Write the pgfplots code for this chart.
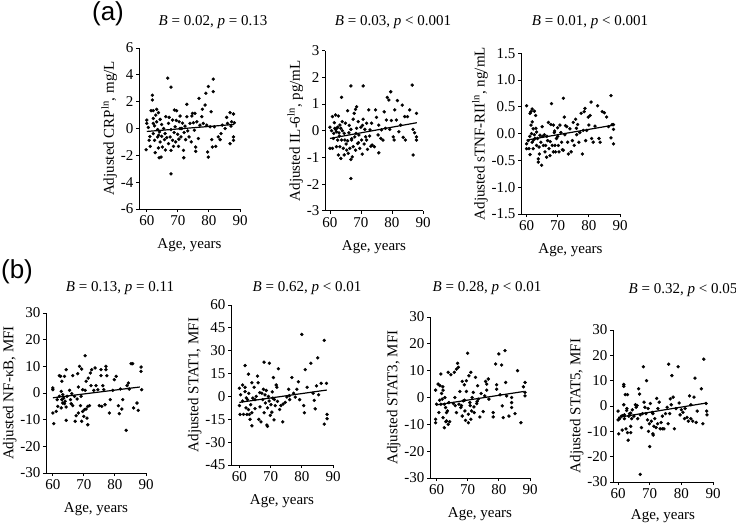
\documentclass[border=0pt]{standalone}
\usepackage{pgfplots}
\pgfplotsset{compat=1.18}
\usepackage{fontspec}
\setmainfont{Liberation Serif}
\newfontfamily\arialfont{Liberation Sans}
\newcommand\tf{\fontsize{15}{18}\selectfont}
\pgfplotsset{prism/.style={
  scale only axis, anchor=south west, clip=false,
  axis lines=left, axis line style={-, line width=0.9pt},
  tick align=outside, major tick length=3pt, tick style={line width=0.9pt, black},
  xmax=90, xtick={60,70,80,90},
  xlabel={Age, years},
  every axis x label/.style={at={(axis description cs:0.5,0)}, anchor=center, yshift=-36pt},
  /pgf/number format/assume math mode=true,
  tick label style={font=\tf}, label style={font=\tf},
  yticklabel style={xshift=1pt},
  ylabel style={yshift=-3pt},
}}
\tikzset{pt/.style={only marks, mark=*, mark size=1.5pt, black}, reg/.style={black, line width=1.2pt, no marks}}
\begin{document}
\begin{tikzpicture}
\path[use as bounding box] (0,0) rectangle (736pt,-525pt);
% ---------------- (a1) CRP
\begin{axis}[prism, at={(139pt,-209pt)}, width=101pt, height=161pt, xmin=57.5,
  ymin=-6, ymax=6, ytick={-6,-4,...,6}, ylabel={Adjusted CRP\textsuperscript{ln}, mg/L}]
\addplot[pt] coordinates {(59.8,-1.58) (60,0.63) (60,0.38) (60.5,0.08) (60.75,-0.88) (61.1,-1.33) (61.4,1.33) (61.8,2.48) (61.8,2.13) (62.1,1.33) (62.1,0.75) (62.1,0.38) (62.1,-0.38) (62.5,-0.88) (62.7,-1.8) (62.9,1.0) (63.2,1.43) (63.2,0.5) (63.5,-0.08) (63.5,-0.63) (63.75,1.18) (63.75,-1.45) (63.96,-2.18) (64.1,-0.25) (64.3,0.68) (64.3,-1.0) (64.6,-2.13) (64.8,-0.58) (65,-1.38) (65.4,0) (65.7,-0.83) (65.9,-0.38) (66.1,0.88) (66.4,-0.68) (66.75,3.75) (67,0.38) (67,-1.13) (67.2,0.83) (67.5,-0.63) (67.8,3.08) (67.8,-0.08) (67.8,-1.63) (67.8,-3.38) (68.3,0.63) (68.3,-0.88) (68.6,-1.33) (68.9,1.38) (69.1,0.13) (69.3,-1.0) (69.6,1.33) (69.96,-0.43) (70.2,-1.33) (70.4,0.5) (70.7,0) (70.7,0.93) (71,-0.63) (71.25,0) (71.8,-1.63) (71.9,-2.18) (72.3,0.18) (72.5,-0.83) (72.9,1.8) (72.9,0.88) (73.2,-0.18) (73.6,-0.63) (73.9,0.38) (74.3,-1.0) (74.5,0.93) (74.7,1.13) (75,0.43) (75.3,-0.13) (75.5,1.13) (75.75,-1.38) (75.75,-1.7) (76.1,0.5) (76.6,-0.75) (76.8,2.25) (77.1,0.25) (77.7,0.88) (77.9,1.43) (78.2,0.38) (78.75,1.75) (79,2.63) (79.3,0.25) (79.6,-1.75) (79.8,-2.13) (79.8,3.13) (80.4,0.13) (80.7,1.25) (80.9,-0.83) (81.1,-1.38) (81.4,3.68) (81.4,2.75) (81.75,0.13) (82.2,-1.33) (83,-0.63) (83.6,-0.83) (83.9,-0.38) (84.3,0.25) (85.2,0) (85.7,0.83) (86,0.38) (86.8,1.18) (86.8,-1.13) (87.1,0.18) (87.3,0.5) (87.9,1.08) (87.9,-0.63) (87.9,-0.88) (88.2,0.43)
 (61,-0.6) (62.5,0.2) (63.8,-0.5) (64.8,0.3) (66,-1.6) (68.8,-0.3) (69.5,0.6) (70.3,-0.8) (71.5,0.4) (72,-0.3)};
\addplot[reg] coordinates {(60,-0.22) (88,0.3)};
\end{axis}
% ---------------- (a2) IL-6
\begin{axis}[prism, at={(325pt,-210.7pt)}, width=98pt, height=160pt, xmin=58.4,
  ymin=-3, ymax=3, ytick={-3,-2,...,3}, ylabel={Adjusted IL-6\textsuperscript{ln}, pg/mL}]
\addplot[pt] coordinates {(60,0.13) (60,-0.66) (60.5,0) (60.8,-0.66) (60.8,0.53) (61.1,-0.29) (61.4,0.3) (61.6,0.09) (61.8,0.59) (61.8,0.05) (62.1,-0.04) (62.1,-0.6) (62.5,0.13) (62.5,-0.35) (62.7,0.55) (62.7,-0.91) (62.9,-0.08) (63.2,0.21) (63.2,-0.6) (63.5,0.09) (63.5,-1.04) (63.75,1.25) (63.75,-0.35) (63.96,0.34) (64.3,-0.66) (64.6,-0.91) (64.6,-0.1) (64.8,-0.35) (65,0.28) (65.4,-0.73) (65.7,0.75) (65.7,-0.38) (65.9,-0.85) (66.1,-0.08) (66.4,-0.66) (66.75,1.68) (66.75,0.05) (66.75,-1.08) (66.75,-1.79) (66.97,-0.35) (67.2,-0.98) (67.5,0.43) (67.5,-0.6) (67.8,0.65) (68,-0.23) (68.25,0.8) (68.25,-0.73) (68.6,0.9) (68.6,0.09) (68.9,-0.48) (69.1,0.34) (69.3,-0.16) (69.6,-0.66) (69.96,0.13) (70.2,-0.35) (70.4,-0.88) (70.7,1.68) (70.7,0.43) (71,-0.5) (71.25,0.05) (71.5,-0.23) (71.8,0.28) (72.1,-0.7) (72.5,0.78) (72.9,0.03) (73.2,-0.58) (73.4,0.28) (73.6,-0.54) (74.3,-0.6) (74.7,0.78) (75,0.5) (75.5,-0.16) (75.75,-0.83) (75.75,0.21) (76.4,-0.29) (76.6,0.03) (77.1,-0.35) (77.5,0.71) (77.9,0.09) (78.2,0.4) (78.5,1.25) (79,1.15) (79.3,0.05) (79.6,1.46) (79.8,0.38) (80.4,-0.23) (80.7,-0.35) (80.9,0.78) (81.4,0.4) (81.75,1.13) (82.2,-0.04) (82.8,0.21) (83.3,0.96) (83.6,-0.25) (84.1,0.53) (84.3,-0.35) (85,0.53) (85.7,0.78) (86.5,1.71) (86.8,0.05) (86.8,-0.91) (87.3,-0.08) (87.9,0.65) (87.9,-0.23) (87.9,-0.35)
 (61.2,-0.1) (62.3,0.1) (63,-0.2) (64,0.0) (65.2,-0.5) (66.2,0.2) (67,-0.3) (68.4,-0.1) (69.2,-0.45) (70.5,0.2) (71.8,-0.35) (72.8,-0.2)};
\addplot[reg] coordinates {(60,-0.29) (88,0.3)};
\end{axis}
% ---------------- (a3) sTNF-RII
\begin{axis}[prism, at={(521pt,-214pt)}, width=99pt, height=160.7pt, xmin=58.2,
  ymin=-1.5, ymax=1.5, ytick={-1.5,-1,...,1.5},
  yticklabel style={/pgf/number format/.cd, fixed, fixed zerofill, precision=1},
  ylabel={Adjusted sTNF-RII\textsuperscript{ln}, ng/mL}]
\addplot[pt] coordinates {(60,0.52) (60,-0.19) (60,-0.28) (60.5,-0.13) (60.75,-0.28) (61.1,0.38) (61.1,-0.39) (61.4,0.41) (61.4,0.16) (61.6,0) (61.8,0.46) (61.8,0.22) (61.8,-0.16) (62.1,0.09) (62.1,-0.28) (62.5,0.42) (62.5,-0.02) (62.7,-0.09) (62.9,0.34) (63.2,0.03) (63.2,-0.22) (63.5,-0.09) (63.75,-0.47) (63.75,-0.53) (64.1,-0.38) (64.3,-0.03) (64.6,-0.16) (64.8,-0.59) (65,0.13) (65.4,-0.22) (65.7,-0.02) (65.9,-0.34) (66.1,-0.22) (66.4,-0.44) (66.75,-0.13) (67,0.21) (67.2,-0.28) (67.5,-0.41) (67.8,0.17) (68,0.56) (68.25,-0.22) (68.6,0.16) (68.6,-0.34) (68.9,0.02) (69.1,-0.22) (69.3,-0.34) (69.6,-0.09) (69.96,0.11) (70.2,-0.22) (70.4,-0.34) (70.7,0.16) (71,0.02) (71.25,-0.16) (71.8,0.66) (71.8,-0.31) (72.1,0.31) (72.3,-0.02) (72.9,0.13) (73.2,-0.16) (73.4,-0.38) (73.9,0.09) (74.3,-0.34) (74.7,-0.13) (75,0.21) (75.3,-0.22) (75.75,0.27) (76.1,-0.02) (76.4,0.17) (76.8,-0.16) (77.1,0.02) (77.5,0.38) (77.9,-0.38) (78.2,0.06) (78.5,0.41) (78.75,0.47) (78.96,-0.13) (79.3,0.06) (79.8,0.31) (80,0.16) (80.4,0.34) (80.7,0.59) (80.9,-0.09) (81.4,-0.16) (81.97,0.14) (82.8,0.52) (83.25,-0.09) (83.6,-0.16) (84.3,0.41) (84.97,0.39) (85.7,0.31) (86.3,0.13) (87.1,0.71) (87.1,-0.08) (87.5,0.17) (87.9,-0.19) (87.9,0.17) (87.9,0.08)
 (61,-0.05) (62.2,-0.12) (63,0.1) (64,-0.25) (65.2,-0.05) (66.5,-0.05) (67.6,-0.15) (69,0.05) (70,-0.05) (71.5,-0.3) (72.5,0.15) (76,0.1)};
\addplot[reg] coordinates {(60,-0.12) (88,0.16)};
\end{axis}
% ---------------- (b1) NF-kB
\begin{axis}[prism, at={(46pt,-473pt)}, width=100pt, height=160pt, xmin=57.8,
  ymin=-30, ymax=30, ytick={-30,-20,...,30}, ylabel={Adjusted NF-κB, MFI}]
\addplot[pt] coordinates {(60,1.9) (60,1.25) (60,-7.5) (60.3,-11.5) (61.1,-6.9) (61.4,-2.5) (61.6,-5) (62.1,6.5) (62.1,-1.25) (62.5,6.25) (62.7,0.6) (62.7,-5.6) (62.9,4.4) (62.9,-2.5) (63.2,-0.6) (63.2,-3.75) (63.5,-1.9) (63.75,6.25) (63.75,-4) (63.96,-3.1) (64.3,8.75) (64.3,-5.25) (64.3,-10.25) (64.6,-1.25) (65.4,1) (65.7,-2.5) (65.9,-4) (66.1,-0.25) (66.4,6.5) (66.4,-4.75) (66.97,-1.25) (67.2,-10.6) (67.5,-8.5) (67.8,-2.25) (68,7.25) (68.25,2.25) (68.25,-7.5) (68.6,10) (68.9,-4.75) (69.1,-1.25) (69.3,9) (69.3,-10.6) (69.6,1.25) (69.6,-6.9) (69.96,-8.75) (70.2,-6.25) (70.4,14) (70.4,1) (70.7,4.4) (70.7,-6) (71,-9.4) (71.25,-11.9) (71.25,-5) (71.4,5.6) (71.8,-4.75) (72.1,7.5) (72.3,2.75) (72.5,8.75) (73.2,1) (73.6,9.4) (73.9,2.75) (74.5,1.25) (74.97,-4.75) (75.5,6.5) (75.5,8.75) (75.75,-5) (76.1,2.75) (76.4,1.25) (76.8,-4.4) (77.1,8.75) (77.1,10) (77.4,6.5) (78.2,-7.5) (78.5,-2.5) (79.3,1) (79.8,5) (80.4,6.25) (81.1,-4.75) (81.4,-7.75) (81.75,1.5) (82.2,-6) (82.5,-2.5) (83.6,-14) (83.9,2.75) (84.3,3.75) (84.6,1.5) (85.2,11) (85.7,11) (86,-5.6) (87.1,-3.75) (87.5,-6.5) (88.4,9.75) (88.4,8.1) (88.6,1.25)};
\addplot[reg] coordinates {(60,-1.8) (88,2.25)};
\end{axis}
% ---------------- (b2) STAT1
\begin{axis}[prism, at={(231pt,-465pt)}, width=102pt, height=160pt, xmin=57.3,
  ymin=-45, ymax=60, ytick={-45,-30,...,60}, ylabel={Adjusted STAT1, MFI}]
\addplot[pt] coordinates {(60,5.4) (60,-6) (60.2,-11.8) (60.4,1.1) (61,7.5) (61.3,-11.8) (61.8,20.3) (61.8,6) (61.8,3.2) (62.1,-7.5) (62.4,-11.8) (62.6,-2.1) (62.9,14.6) (62.9,-8.6) (63.2,-11.8) (63.4,-15) (63.6,-5.4) (64,9) (64,-19.3) (64,-10.7) (64.3,-1.1) (64.7,6) (65,-2.1) (65.4,0) (65.8,13.3) (66,9) (66.2,-15) (66.6,-6.9) (66.9,-16.7) (67.2,2.1) (67.5,-2.1) (67.7,4.7) (67.9,22.5) (67.9,-10.7) (68.3,-4.3) (68.6,3.9) (68.8,-18.8) (69,-19.7) (69,-7.5) (69.3,0) (69.6,21.8) (69.9,-12.4) (70.1,-5.4) (70.4,-10.3) (70.7,-1.1) (70.9,12.4) (71.1,-15.4) (71.5,-6) (71.8,7.5) (72.2,-3.2) (72.5,18.2) (72.9,-8.6) (73.3,-6) (73.9,-16.7) (74.7,-3.9) (75.2,-0.4) (75.8,4.7) (76.1,-2.1) (76.8,12.4) (77.4,2.1) (77.9,-0.4) (78.4,4.7) (78.9,9.6) (79.3,-2.1) (80,40.7) (80.6,-6) (80.8,-10.7) (81.1,17.6) (81.7,6) (82.9,21.8) (83.6,2.1) (84,-2.6) (84.3,-8.1) (84.7,6.9) (85.1,25.3) (85.4,1.1) (86.2,8.6) (87.2,36.8) (87.2,-18.2) (87.9,8.6) (88.1,-11.8) (88.1,-14.6)
 (61,-3) (62.2,-1) (63,2) (65,-8) (66.5,2.5) (68.2,1) (69.5,-3) (70.5,3) (71.2,-2) (72,6) (74,-5) (76,0.5)};
\addplot[reg] coordinates {(60,-3.9) (88,4.2)};
\end{axis}
% ---------------- (b3) STAT3
\begin{axis}[prism, at={(430pt,-478pt)}, width=100pt, height=161pt, xmin=57.9,
  ymin=-30, ymax=30, ytick={-30,-20,...,30}, ylabel={Adjusted STAT3, MFI}]
\addplot[pt] coordinates {(59.7,2.75) (59.7,-8.1) (59.7,-9.4) (60,-2.5) (60.5,5) (60.75,-5.6) (61.1,4.4) (61.4,8.75) (61.4,-2.5) (61.6,1.5) (61.8,-0.6) (62.1,2.75) (62.1,-7.5) (62.5,-11.25) (62.5,-2.5) (62.7,0) (62.9,-3.75) (63.2,-8.75) (63.2,-5.6) (63.5,-5) (63.75,9.4) (63.75,-10) (63.96,-1.9) (64.6,8.5) (65.4,-2.25) (65.7,9.4) (65.9,0) (66.4,-5.6) (66.4,10.6) (66.75,12.75) (67,11.25) (67.2,-2.5) (67.5,2.25) (67.8,-3.75) (68.25,6) (68.25,-6.9) (68.6,-1.25) (68.9,4.75) (69.1,-5) (69.3,-8.5) (69.6,2.25) (69.6,6.25) (69.96,16.5) (70.2,-6.25) (70.2,-9.4) (70.4,8.1) (70.7,-1.9) (71,-8.1) (71,9.4) (71.25,-5) (71.4,0) (71.8,1.9) (72.1,-5.6) (72.5,7.5) (72.9,-2.25) (73.2,4.4) (73.4,-0.6) (73.9,-7.25) (74.3,1.5) (74.97,-5.25) (75.5,0.6) (75.75,6) (76.1,2.75) (76.1,5) (76.6,6.9) (76.8,-0.6) (78.2,-5.6) (78.2,-7.25) (78.96,12.5) (79.3,4.75) (79.3,3.1) (80,16.25) (80.4,1) (80.9,12.1) (81.1,-3.1) (81.4,-7.5) (81.97,17.5) (82.2,5.6) (82.5,0.6) (83.25,-6.9) (84.1,0) (84.1,-1.9) (84.1,-3.75) (85.2,-6) (86,10) (87.1,-9.4) (87.9,4) (88.4,5.6) (88.4,1.9) (88.4,0.6)
 (61,-1) (62,4) (63,-9) (64.2,-9) (66,-3) (68,-3) (69,-1) (70.8,-3) (72,-3.5) (73,-1.5)};
\addplot[reg] coordinates {(60,-2.75) (88,2.25)};
\end{axis}
% ---------------- (b4) STAT5
\begin{axis}[prism, at={(613pt,-482pt)}, width=100pt, height=152pt, xmin=58.4,
  xlabel style={yshift=2pt},
  ymin=-30, ymax=30, ytick={-30,-20,...,30}, ylabel={Adjusted STAT5, MFI}]
\addplot[pt] coordinates {(60,-2) (60,-5.5) (60.2,-11) (60.5,-5) (61,-4) (61.3,-9.5) (61.8,8.5) (61.8,7.8) (61.8,0.5) (62,-3.5) (62,-5) (62.3,4.5) (62.5,-9) (62.7,-1.8) (63,4.5) (63,-10.5) (63.2,-13.5) (63.4,-4) (63.6,-3) (64,-8) (64,-10.5) (64.3,-5) (64.5,-1.5) (65.5,0.5) (65.7,-0.5) (66,0.2) (66.2,-5) (66.5,6.8) (66.8,4.7) (67,-27) (67.4,-8.5) (67.7,-3) (68,15.5) (68.2,1.5) (68.5,-0.5) (68.8,-3) (69,10) (69.3,-5.5) (69.6,-10) (69.9,-7) (70,-16) (70.2,1) (70.5,-6) (70.8,-2.5) (71,-11) (71.1,-11.5) (71.3,-8) (71.6,-5) (72,-8.5) (72.2,3) (72.6,-1) (73,1.5) (73.3,-9) (73.6,-6.5) (74,-9) (74.5,-9) (75,-3) (75.5,-0.5) (75.8,-7) (76,16.5) (76.3,-3) (76.5,2.8) (77,12) (77.4,3.5) (77.8,-9) (78.3,-1) (79,15.5) (79.3,1.2) (79.6,-3.5) (80.5,-2.5) (81,-5) (81.2,-1) (81.8,-4.5) (82.2,-6) (82.6,4) (83,-5) (83.6,-6) (84,3.5) (84.3,11) (84.7,-6.5) (85,-2) (86.3,6.8) (86.8,-7) (87.1,18.5) (87.8,1) (88,-2) (88.1,-3.5)
 (61.5,-3.8) (62.8,-1) (64,-2.8) (65,-4) (67,-3.5) (69.5,-1) (71,-3) (72.5,-7) (74,-4) (76.8,0.5) (80,-1.5) (83,0.5)};
\addplot[reg] coordinates {(60,-4.5) (88,1.2)};
\end{axis}
% ---------------- titles and panel letters
\node[font=\tf] at (213pt,-22pt) {\textit{B} = 0.02, \textit{p} = 0.13};
\node[font=\tf] at (393pt,-22pt) {\textit{B} = 0.03, \textit{p} < 0.001};
\node[font=\tf] at (590pt,-22pt) {\textit{B} = 0.01, \textit{p} < 0.001};
\node[font=\tf] at (120pt,-288pt) {\textit{B} = 0.13, \textit{p} = 0.11};
\node[font=\tf] at (307pt,-288pt) {\textit{B} = 0.62, \textit{p} < 0.01};
\node[font=\tf] at (487pt,-288pt) {\textit{B} = 0.28, \textit{p} < 0.01};
\node[font=\tf] at (683pt,-290pt) {\textit{B} = 0.32, \textit{p} < 0.05};
\node[font=\arialfont\fontsize{26}{30}\selectfont] at (108pt,-14pt) {(a)};
\node[font=\arialfont\fontsize{26}{30}\selectfont] at (17pt,-272pt) {(b)};
\end{tikzpicture}
\end{document}
